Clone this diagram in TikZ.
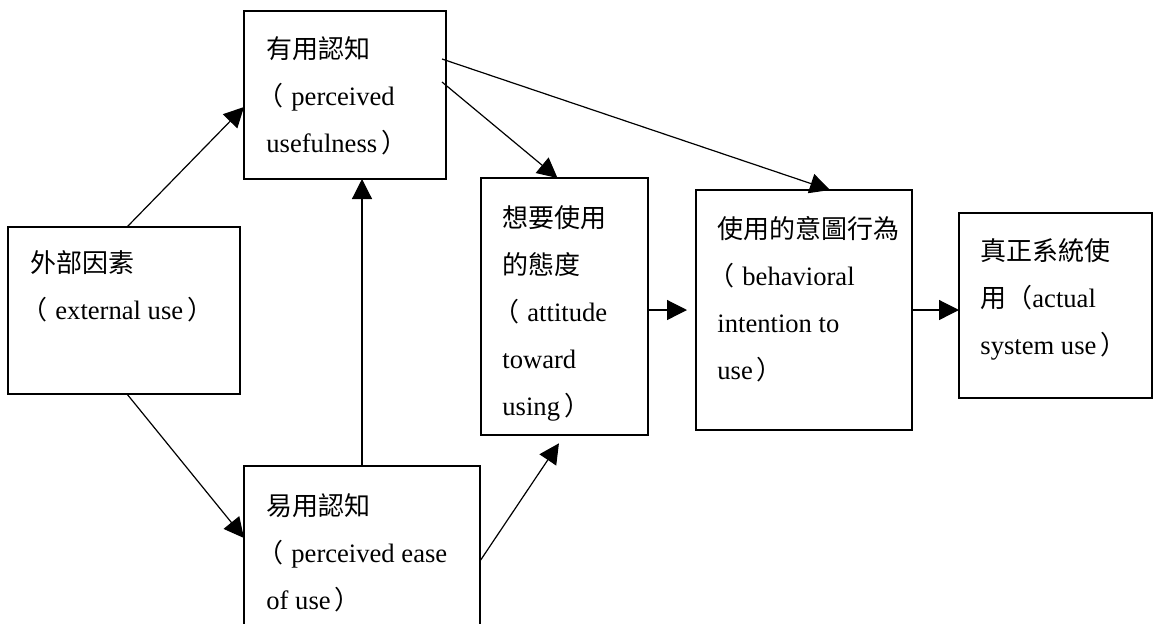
\documentclass[tikz,border=0pt]{standalone}
\usepackage{fontspec}
\setmainfont{Liberation Serif}
\newfontfamily\cjk{Noto Sans CJK TC}
\usetikzlibrary{arrows.meta}
\newcommand{\zh}[1]{{\cjk\fontsize{13pt}{23.5pt}\selectfont #1}}
\newcommand{\zhlp}{\zh{\kern-4.5pt（\kern4pt}}
\newcommand{\zhrp}{\zh{\kern2pt）}}
\tikzset{
  box/.style={draw, line width=0.65pt, anchor=north west, inner sep=0pt, outer sep=0pt},
  txt/.style={anchor=base west, align=left, inner sep=0pt, font=\fontsize{13.3pt}{23.5pt}\selectfont},
  arr/.style={line width=0.6pt, -{Triangle[length=10pt,width=10pt]}}
}
\begin{document}
\begin{tikzpicture}[x=0.5pt, y=-0.5pt]
  \useasboundingbox (0,0) rectangle (1155,623);
  \clip (0,0) rectangle (1155,623);

  \node[box, minimum width=116pt, minimum height=83.5pt] (ext) at (8,227) {};
  \node[box, minimum width=101pt, minimum height=84pt] (pu) at (244,11) {};
  \node[box, minimum width=118pt, minimum height=100pt] (peou) at (244,466) {};
  \node[box, minimum width=83.5pt, minimum height=128.5pt] (att) at (481,178) {};
  \node[box, minimum width=108pt, minimum height=120pt] (int) at (696,190) {};
  \node[box, minimum width=96.5pt, minimum height=92.5pt] (act) at (959,213) {};

  \node[txt] (ext-t) at ([xshift=11pt,yshift=-46pt]ext.north west)
    {\zh{外部因素}\\\zhlp external use\zhrp};
  \node[txt] (pu-t) at ([xshift=11pt,yshift=-70.5pt]pu.north west)
    {\zh{有用認知}\\\zhlp perceived\\usefulness\zhrp};
  \node[txt] (peou-t) at ([xshift=11pt,yshift=-71.5pt]peou.north west)
    {\zh{易用認知}\\\zhlp perceived ease\\of use\zhrp};
  \node[txt] (att-t) at ([xshift=10.5pt,yshift=-118.5pt]att.north west)
    {\zh{想要使用}\\\zh{的態度}\\\zhlp attitude\\toward\\using\zhrp};
  \node[txt] (int-t) at ([xshift=10.5pt,yshift=-94.5pt]int.north west)
    {\zh{使用的意圖行為}\\\zhlp behavioral\\intention to\\use\zhrp};
  \node[txt] (act-t) at ([xshift=10.5pt,yshift=-70.5pt]act.north west)
    {\zh{真正系統使}\\\zh{用（}actual\\system use\zhrp};

  \draw[arr] ([xshift=1.5pt]ext.north) -- ([yshift=-6pt]pu.west);
  \draw[arr] ([xshift=1.5pt]ext.south) -- ([yshift=-36pt]peou.north west);
  \draw[arr] (peou.north) -- (peou.north |- pu.south);
  \draw[arr, shorten >=5pt] ([yshift=-47.5pt]peou.north east) -- (att.south);
  \draw[arr] ([xshift=-2pt,yshift=6.5pt]pu.east) -- ([xshift=-3.5pt]att.north);
  \draw[arr] ([xshift=-2pt,yshift=18pt]pu.east) -- ([xshift=13pt]int.north);
  \draw[arr, shorten >=4.5pt] (att.east |- int.west) -- (int.west);
  \draw[arr] (int.east) -- (int.east -| act.west);
\end{tikzpicture}
\end{document}
